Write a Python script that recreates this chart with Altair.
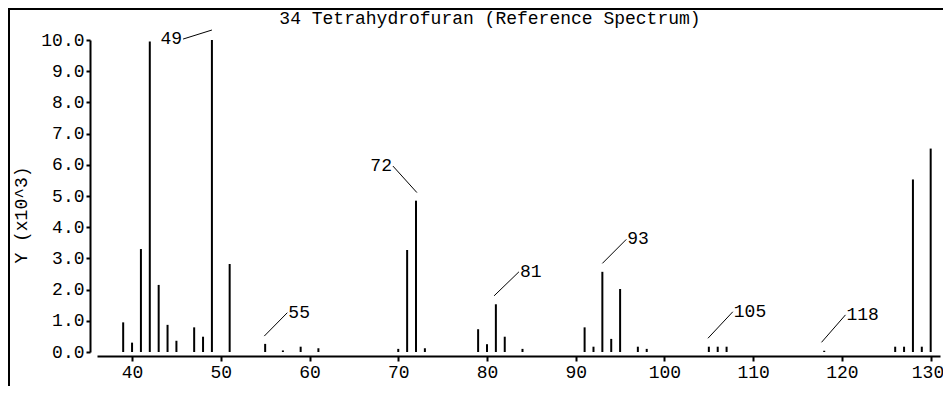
import altair as alt
import pandas as pd

# ---- data ----
mz = [39, 40, 41, 42, 43, 44, 45, 47, 48, 49, 51, 55, 57, 59, 61,
      70, 71, 72, 73, 79, 80, 81, 82, 84, 91, 92, 93, 94, 95, 97, 98,
      105, 106, 107, 118, 126, 127, 128, 129, 130]
intensity = [0.95, 0.30, 3.30, 9.95, 2.15, 0.87, 0.36, 0.79, 0.49, 10.0, 2.82, 0.26, 0.05, 0.17, 0.12,
             0.10, 3.27, 4.85, 0.12, 0.73, 0.25, 1.53, 0.49, 0.10, 0.79, 0.17, 2.57, 0.42, 2.02, 0.17, 0.10,
             0.17, 0.17, 0.17, 0.04, 0.17, 0.17, 5.53, 0.17, 6.52]

# annotations: label, leader start (m/z, y) at the peak, leader end (m/z, y) at the label, side
ann_label = ["49", "72", "55", "81", "93", "105", "118"]
ann_mz0 = [49.0, 72.1, 54.9, 80.8, 93.0, 104.9, 117.7]
ann_y0 = [10.32, 5.11, 0.51, 1.80, 2.84, 0.44, 0.31]
ann_mz1 = [45.75, 69.4, 57.5, 83.6, 95.7, 107.7, 120.4]
ann_y1 = [10.03, 5.96, 1.26, 2.57, 3.61, 1.29, 1.19]
ann_side = ["left", "left", "right", "right", "right", "right", "right"]

x_ticks = [40, 50, 60, 70, 80, 90, 100, 110, 120, 130]
y_ticks = [0, 1, 2, 3, 4, 5, 6, 7, 8, 9, 10]
title_text = "34 Tetrahydrofuran (Reference Spectrum)"
y_title = "Y (x10^3)"

FONT = "Liberation Mono"
FS = 18

peaks = pd.DataFrame({"mz": mz, "y": intensity, "y0": [0.0] * len(mz)})
ann = pd.DataFrame({"label": ann_label, "mz0": ann_mz0, "y0": ann_y0,
                    "mz1": ann_mz1, "y1": ann_y1, "side": ann_side})

xscale = alt.Scale(domain=[36.05, 131.05], nice=False, zero=False)
yscale = alt.Scale(domain=[0, 10], nice=False)

xaxis = alt.Axis(values=x_ticks, title=None, grid=False, offset=4, tickSize=5,
                 tickWidth=2, domainWidth=2, domainColor="black", tickColor="black",
                 labelFont=FONT, labelFontSize=FS, labelColor="black", labelPadding=2,
                 labelFlush=15, labelFlushOffset=13, labelOverlap=False)
yaxis = alt.Axis(values=y_ticks, format=".1f", title=None, grid=False, offset=7, tickSize=4,
                 tickWidth=2, domainWidth=2, domainColor="black", tickColor="black",
                 labelFont=FONT, labelFontSize=FS, labelColor="black", labelPadding=2,
                 labelOverlap=False, labelFlush=False)


def X(field):
    return alt.X(field, type="quantitative", scale=xscale, axis=xaxis)


def Y(field):
    return alt.Y(field, type="quantitative", scale=yscale, axis=yaxis)


stems = alt.Chart(peaks).mark_rule(color="black", strokeWidth=2).encode(
    x=X("mz"), y=Y("y"), y2="y0:Q",
)

leaders = alt.Chart(ann).mark_rule(color="black", strokeWidth=1).encode(
    x=X("mz0"), y=Y("y0"), x2="mz1:Q", y2="y1:Q"
)

left_labels = alt.Chart(ann).transform_filter(alt.datum.side == "left").mark_text(
    font=FONT, fontSize=FS, align="right", baseline="middle", dx=-1, color="black"
).encode(x=X("mz1"), y=Y("y1"), text="label:N")

right_labels = alt.Chart(ann).transform_filter(alt.datum.side == "right").mark_text(
    font=FONT, fontSize=FS, align="left", baseline="middle", dx=1, color="black"
).encode(x=X("mz1"), y=Y("y1"), text="label:N")

title_mark = alt.Chart(pd.DataFrame({"t": [title_text]})).mark_text(
    font=FONT, fontSize=FS, align="center", baseline="middle", color="black"
).encode(x=alt.value(393), y=alt.value(-21), text="t:N")

ytitle_mark = alt.Chart(pd.DataFrame({"t": [y_title]})).mark_text(
    font=FONT, fontSize=FS, align="center", baseline="middle", angle=270, color="black"
).encode(x=alt.value(-75), y=alt.value(175), text="t:N")

frame_top = alt.Chart(pd.DataFrame({"a": [0]})).mark_rule(color="black", strokeWidth=2).encode(
    x=alt.value(-89), x2=alt.value(860), y=alt.value(-31))
frame_left = alt.Chart(pd.DataFrame({"a": [0]})).mark_rule(color="black", strokeWidth=2).encode(
    x=alt.value(-88), y=alt.value(-31), y2=alt.value(360))

chart = alt.layer(
    frame_top, frame_left, stems, leaders, left_labels, right_labels, title_mark, ytitle_mark
).properties(
    width=843, height=312,
    autosize=alt.AutoSizeParams(type="none"),
    padding={"left": 89, "top": 32, "right": 3, "bottom": 34},
    background="white",
).configure_view(stroke=None).configure_axis(labelOverlap=False)

chart.save("out.html", embed_options={"renderer": "svg", "actions": False})
